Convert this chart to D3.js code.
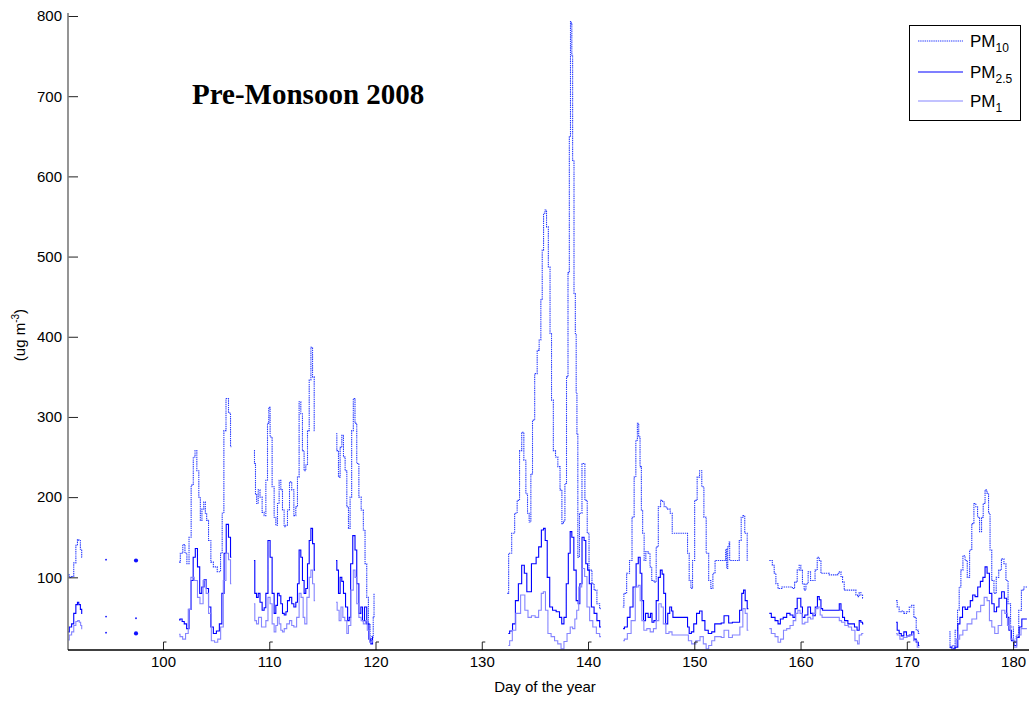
<!DOCTYPE html>
<html>
<head>
<meta charset="utf-8">
<script src="https://cdn.jsdelivr.net/npm/d3@7"></script>
<style>
  body { margin: 0; background: #fff; }
  svg { display: block; }
</style>
</head>
<body>
<svg id="chart" width="1029" height="701"></svg>
<script>
// Hourly-smoothed aerosol mass concentrations, [day of year, ug m-3]; null marks a data gap.
const pm10 = [
  [91.06,103],[91.3,100],[91.5,101],[91.7,118],[91.9,140],[92.0,147],[92.15,146],[92.3,135],[92.4,125],
  null, [94.64,122],
  null, [97.44,121],[97.48,121],
  null,
  [101.51,119],[101.75,130],[101.98,141],[102.15,130],[102.35,117],[102.55,150],[102.75,215],[102.95,250],[103.08,258],
  [103.29,233],[103.45,200],[103.58,171],[103.75,185],[103.92,194],[104.05,180],[104.17,171],[104.4,146],[104.61,119],
  [104.87,113],[105.34,107],[105.49,130],[105.65,180],[105.81,283],[106.05,323],[106.28,305],[106.43,263],
  null,
  [108.56,258],[108.66,242],[108.75,204],[108.88,192],[109.04,209],[109.22,200],[109.44,181],[109.6,177],[109.76,221],
  [109.91,292],[110.0,312],[110.16,275],[110.38,213],[110.54,175],[110.7,165],[110.85,192],[111.01,221],[111.17,209],
  [111.32,184],[111.48,163],[111.64,165],[111.79,184],[112.02,219],[112.21,209],[112.42,177],[112.58,188],[112.73,225],
  [112.89,319],[113.05,304],[113.2,258],[113.36,233],[113.52,240],[113.68,283],[113.84,346],[114.0,387],[114.15,350],[114.31,283],
  null,
  [116.28,279],[116.44,258],[116.59,225],[116.75,262],[116.91,277],[117.06,250],[117.22,233],[117.38,188],[117.53,161],
  [117.69,200],[117.82,283],[118.0,323],[118.14,292],[118.33,242],[118.54,200],[118.76,184],[118.95,159],[119.08,117],
  [119.27,75],[119.39,42],[119.58,21],[119.74,26],[119.83,50],[119.89,80],
  null,
  [132.4,80],[132.66,130],[132.97,155],[133.22,180],[133.44,196],[133.67,258],[133.85,281],[134.07,246],[134.23,204],
  [134.38,180],[134.54,169],[134.7,229],[134.85,296],[135.11,354],[135.32,383],[135.48,396],[135.64,446],[135.74,508],
  [135.89,554],[136.02,558],[136.17,537],[136.36,487],[136.49,404],[136.64,321],[136.83,258],[137.05,250],[137.27,238],
  [137.46,209],[137.62,167],[137.75,170],[137.9,217],[138.05,350],[138.18,480],[138.3,650],[138.4,793],[138.45,790],
  [138.5,751],[138.6,620],[138.76,454],[138.85,404],[138.92,330],[138.99,279],[139.09,125],[139.3,180],[139.56,242],
  [139.85,196],[140.0,155],[140.19,109],[140.3,109],[140.44,92],[140.7,84],[140.97,67],[141.22,61],
  null,
  [143.27,63],[143.48,80],[143.79,105],[144.02,121],[144.26,175],[144.42,225],[144.58,271],[144.71,292],[144.83,275],
  [144.96,238],[145.08,184],[145.2,155],[145.36,121],[145.52,132],[145.77,130],[145.9,113],[146.09,96],[146.31,94],
  [146.52,138],[146.71,188],[146.94,196],[147.09,194],[147.25,188],[147.6,185],[147.88,180],[147.97,155],[149.29,155],
  [149.44,130],[149.6,96],[149.76,86],[149.91,121],[150.16,196],[150.38,225],[150.61,233],[150.8,213],[151.01,175],
  [151.23,130],[151.48,96],[151.64,86],[151.86,105],[152.05,121],[152.9,121],[153.0,135],[153.1,111],[153.2,138],
  [153.36,144],[153.3,121],[154.15,121],[154.31,146],[154.52,175],[154.63,177],[154.87,155],[155.09,121],
  null,
  [157.06,121],[157.25,121],[157.44,115],[157.6,105],[157.76,92],[158.0,86],[158.5,88],[159.17,88],[159.3,86],
  [159.58,94],[159.79,109],[159.95,115],[160.1,109],[160.26,92],[160.42,84],[160.6,92],[160.83,107],[161.05,96],
  [161.27,96],[161.46,109],[161.68,125],[161.84,121],[162.0,105],[163.41,103],[163.58,105],[163.73,107],[163.88,101],
  [164.03,94],[164.19,84],[165.13,84],[165.29,78],[165.44,76],[165.6,81],[165.76,78],[165.91,74],
  null,
  [168.99,71],[169.2,63],[169.36,57],[169.6,58],[169.84,55],[170.1,57],[170.37,63],[170.55,65],[170.78,50],[170.99,34],[171.18,30],
  null,
  [174.0,32],[174.13,13],[174.4,13],[174.7,34],[174.85,59],[175.01,88],[175.17,109],[175.39,127],[175.58,121],
  [175.8,100],[176.02,134],[176.21,167],[176.42,192],[176.58,188],[176.74,175],[176.96,157],[177.11,175],[177.27,192],
  [177.46,209],[177.62,205],[177.77,180],[177.9,134],[178.09,96],[178.31,80],[178.52,100],[178.78,109],[179.03,123],
  [179.25,117],[179.41,96],[179.65,67],[179.88,38],[180.19,19],[180.41,26],[180.66,59],[180.91,84],[181.13,88],[181.35,88]
];

const pm25 = [
  [91.06,32],[91.3,38],[91.5,42],[91.7,55],[91.9,66],[92.0,69],[92.15,66],[92.3,60],[92.4,55],
  null, [94.64,51],
  null, [97.46,49],
  null,
  [101.51,47],[101.7,48],[101.9,45],[102.1,42],[102.35,36],[102.55,60],[102.73,96],[102.95,125],[103.13,136],
  [103.36,113],[103.55,80],[103.75,88],[103.98,97],[104.17,86],[104.4,63],[104.61,38],[104.87,30],[105.18,33],
  [105.43,42],[105.65,80],[105.85,130],[106.05,166],[106.28,150],[106.43,125],
  null,
  [108.56,121],[108.72,80],[108.88,75],[109.04,80],[109.22,69],[109.44,59],[109.6,62],[109.76,80],[110.0,146],
  [110.16,125],[110.38,80],[110.54,55],[110.7,65],[110.85,80],[111.01,77],[111.17,67],[111.32,55],[111.5,53],
  [111.64,57],[111.79,71],[112.02,75],[112.21,67],[112.42,63],[112.58,69],[112.73,92],[112.89,134],[113.05,125],
  [113.2,96],[113.36,80],[113.52,86],[113.68,117],[113.84,146],[114.0,161],[114.15,142],[114.31,109],
  null,
  [116.28,121],[116.44,109],[116.59,80],[116.75,100],[116.91,95],[117.06,80],[117.3,63],[117.45,46],[117.6,50],
  [117.72,117],[118.0,152],[118.14,134],[118.33,92],[118.54,55],[118.7,63],[118.85,46],[119.08,63],[119.27,42],
  [119.48,23],[119.64,17],[119.8,25],
  null,
  [132.5,30],[132.75,33],[133.04,42],[133.29,71],[133.6,92],[133.91,115],[134.1,105],[134.38,82],[134.55,82],
  [134.8,117],[135.0,117],[135.23,125],[135.48,138],[135.74,159],[135.89,161],[136.05,146],[136.27,100],[136.52,63],
  [136.8,59],[137.2,57],[137.43,50],[137.62,42],[137.85,50],[138.05,92],[138.24,130],[138.4,157],[138.55,150],
  [138.78,109],[138.99,71],[139.15,67],[139.31,92],[139.56,150],[139.7,146],[139.88,117],[140.05,109],[140.19,92],
  [140.44,63],[140.7,55],[140.97,46],[141.22,38],
  null,
  [143.3,36],[143.55,38],[143.85,50],[144.05,63],[144.42,88],[144.63,117],[144.83,125],[144.98,105],[145.15,71],
  [145.3,46],[145.52,55],[145.8,50],[145.95,55],[146.09,44],[146.31,46],[146.52,71],[146.71,100],[146.9,109],
  [147.05,104],[147.2,80],[147.4,42],[147.6,55],[147.78,63],[147.95,58],[148.03,50],[149.29,50],[149.44,38],
  [149.6,30],[149.85,32],[150.05,42],[150.38,55],[150.61,58],[150.85,46],[151.15,34],[151.48,30],[151.8,32],
  [152.05,42],[153.02,43],[152.58,52],[153.45,52],[153.02,43],[154.15,44],[154.38,59],[154.56,80],[154.71,84],
  [154.87,71],[155.09,61],
  null,
  [157.06,55],[157.44,50],[157.76,46],[158.0,42],[158.2,48],[158.54,50],[158.85,55],[159.17,53],[159.4,50],
  [159.58,61],[159.79,74],[159.95,74],[160.1,63],[160.26,50],[160.55,53],[160.83,63],[161.05,55],[161.27,52],
  [161.5,63],[161.68,76],[161.84,72],[162.0,61],[162.15,59],[163.56,59],[163.73,67],[163.88,59],[164.03,50],
  [164.25,46],[164.66,42],[164.95,42],[165.2,38],[165.44,34],[165.6,46],[165.76,44],[165.91,42],
  null,
  [168.99,44],[169.2,34],[169.36,30],[169.6,27],[169.84,32],[170.1,27],[170.37,28],[170.55,32],[170.78,23],[170.99,19],[171.18,15],
  null,
  [174.05,13],[174.4,11],[174.7,13],[174.9,42],[175.1,50],[175.39,63],[175.6,60],[175.85,63],[176.1,71],[176.3,78],
  [176.55,76],[176.8,88],[177.05,95],[177.27,100],[177.46,113],[177.65,105],[177.9,80],[178.1,67],[178.34,57],
  [178.55,63],[178.8,74],[179.05,82],[179.3,74],[179.5,50],[179.72,34],[179.97,21],[180.22,15],[180.45,25],
  [180.7,38],[180.95,48],[181.3,48]
];

const pm1 = [
  [91.06,22],[91.3,28],[91.5,32],[91.7,40],[91.9,45],[92.05,46],[92.2,44],[92.3,40],[92.4,36],
  null, [94.64,31],
  null, [97.44,30],[97.48,30],
  null,
  [101.51,29],[101.7,26],[102.0,23],[102.25,30],[102.5,60],[102.75,100],[103.13,96],[103.36,75],[103.6,67],
  [103.95,96],[104.17,80],[104.4,55],[104.7,21],[105.0,19],[105.3,23],[105.55,38],[105.8,96],[106.05,130],
  [106.28,122],[106.43,92],
  null,
  [108.56,67],[108.72,46],[108.88,42],[109.1,50],[109.44,38],[109.6,38],[109.76,46],[110.0,75],[110.16,67],
  [110.38,42],[110.54,32],[110.7,40],[110.85,50],[111.01,42],[111.17,34],[111.32,32],[111.5,36],[111.79,42],
  [112.02,46],[112.21,40],[112.42,38],[112.73,50],[112.89,80],[113.1,75],[113.28,50],[113.4,42],[113.68,75],
  [113.84,100],[114.0,109],[114.15,92],[114.31,71],
  null,
  [116.28,69],[116.5,59],[116.65,46],[116.85,63],[117.0,50],[117.22,46],[117.38,30],[117.53,40],[117.82,84],
  [118.0,109],[118.14,100],[118.33,67],[118.54,50],[118.76,46],[118.95,42],[119.15,46],[119.3,34],[119.58,19],[119.78,21],
  null,
  [132.5,15],[132.75,21],[133.0,34],[133.4,55],[133.91,78],[134.2,59],[134.5,50],[134.85,52],[135.2,50],
  [135.5,59],[135.7,80],[135.89,82],[136.1,59],[136.35,30],[136.7,26],[137.0,21],[137.3,17],[137.62,11],
  [137.85,20],[138.2,30],[138.45,38],[138.65,36],[138.87,48],[139.0,59],[139.25,88],[139.56,111],[139.8,101],
  [140.0,63],[140.3,46],[140.6,38],[140.97,30],[141.22,26],
  null,
  [143.3,21],[143.55,23],[143.85,30],[144.26,46],[144.63,88],[144.83,90],[144.98,71],[145.15,46],[145.36,34],
  [145.7,36],[146.0,32],[146.31,36],[146.52,46],[146.8,67],[146.97,63],[147.2,42],[147.45,30],[147.78,32],
  [148.03,28],[149.29,28],[149.6,21],[149.91,17],[150.38,21],[150.7,26],[151.0,17],[151.23,11],[151.48,15],
  [151.8,21],[152.05,26],[153.02,25],[152.58,34],[153.45,34],[153.02,25],[154.15,28],[154.43,38],[154.71,61],
  [154.87,55],[155.09,34],
  null,
  [157.06,36],[157.44,30],[157.76,26],[158.0,19],[158.25,23],[158.54,34],[158.85,36],[159.17,40],[159.45,46],
  [159.65,55],[159.85,59],[160.05,55],[160.26,42],[160.55,44],[160.83,50],[161.05,48],[161.3,55],[161.55,61],
  [161.75,63],[161.95,53],[162.1,50],[163.56,50],[163.73,46],[164.0,44],[164.34,40],[164.66,38],[164.95,34],
  [165.29,21],[165.44,17],[165.6,28],[165.91,30],
  null,
  [168.99,30],[169.2,28],[169.5,23],[169.84,25],[170.2,27],[170.5,28],[170.78,21],[171.18,13],
  null,
  [174.13,11],[174.45,15],[174.85,23],[175.1,28],[175.45,34],[175.9,42],[176.35,48],[176.8,57],[177.1,65],
  [177.46,75],[177.65,71],[177.9,46],[178.1,38],[178.45,30],[178.75,40],[179.1,59],[179.35,55],[179.6,40],
  [179.95,23],[180.2,13],[180.5,28],[181.0,36],[181.3,36]
];

const xTicks = [100, 110, 120, 130, 140, 150, 160, 170, 180];
const yTicks = [100, 200, 300, 400, 500, 600, 700, 800];
const legendLabels = [["PM", "10"], ["PM", "2.5"], ["PM", "1"]];

const svg = d3.select("#chart");
const font = "'Liberation Sans', Arial, sans-serif";

const x = d3.scaleLinear().domain([91.06, 181.5]).range([68, 1029]);
const y = d3.scaleLinear().domain([10, 800]).range([649.5, 16]);

svg.append("clipPath").attr("id", "plot-clip")
  .append("rect").attr("x", 68).attr("y", 0).attr("width", 961).attr("height", 650);

// Split a null-separated record into contiguous runs.
function runs(arr) {
  const out = [];
  let cur = [];
  for (const p of arr) {
    if (p === null) { if (cur.length) out.push(cur); cur = []; }
    else cur.push(p);
  }
  if (cur.length) out.push(cur);
  return out;
}

const styles = [
  { data: pm10, color: "#2a3cff", dash: "1.4,0.8", width: 1.1 },
  { data: pm25, color: "#0000ff", dash: null, width: 1.1 },
  { data: pm1,  color: "#8585ff", dash: null, width: 1.1 }
];

// sampled readings are held between samples, giving the staircase look of logger data
const line = d3.line().x(d => x(d[0])).y(d => y(d[1])).curve(d3.curveStep);
const plot = svg.append("g").attr("clip-path", "url(#plot-clip)");

styles.forEach(s => {
  const parts = runs(s.data);
  const g = plot.append("g");
  parts.filter(p => p.length > 2).forEach(p => {
    g.append("path").attr("d", line(p))
      .attr("fill", "none").attr("stroke", s.color)
      .attr("stroke-width", s.width)
      .attr("stroke-dasharray", s.dash);
  });
  // isolated readings show up as dots
  parts.filter(p => p.length <= 2).forEach(p => {
    g.append("circle")
      .attr("cx", x(d3.mean(p, d => d[0])))
      .attr("cy", y(d3.mean(p, d => d[1])))
      .attr("r", p.length === 1 ? 0.9 : 2.1)
      .attr("fill", "#1010ff");
  });
});

// y axis
const yAxis = svg.append("g").attr("transform", "translate(68,0)")
  .call(d3.axisLeft(y).tickValues(yTicks).tickSize(-10).tickPadding(6));
yAxis.select(".domain").remove();
yAxis.append("line").attr("x1", 0).attr("x2", 0).attr("y1", 13).attr("y2", 650)
  .attr("stroke", "#7a7a7a").attr("stroke-width", 1.6);
yAxis.selectAll(".tick line").attr("stroke", "#222");
yAxis.selectAll(".tick text").attr("font-family", font).attr("font-size", 15).attr("fill", "#000");

// x axis
const xAxis = svg.append("g").attr("transform", "translate(0,650)")
  .call(d3.axisBottom(x).tickValues(xTicks).tickSize(0).tickPadding(6));
xAxis.select(".domain").remove();
xAxis.append("line").attr("x1", 68).attr("x2", 1029).attr("y1", 0).attr("y2", 0)
  .attr("stroke", "#000").attr("stroke-width", 1.4);
xAxis.selectAll(".tick").append("path")
  .attr("d", "M0,0V-8H3").attr("fill", "none").attr("stroke", "#222").attr("stroke-width", 1);
xAxis.selectAll(".tick text").attr("font-family", font).attr("font-size", 15).attr("fill", "#000");

// axis titles
svg.append("text").attr("x", 545).attr("y", 692).attr("text-anchor", "middle")
  .attr("font-family", font).attr("font-size", 15).text("Day of the year");

const yl = svg.append("text").attr("transform", "translate(25,335) rotate(-90)")
  .attr("text-anchor", "middle").attr("font-family", font).attr("font-size", 15);
yl.append("tspan").text("(ug m");
yl.append("tspan").attr("font-size", 10).attr("dy", -6).text("-3");
yl.append("tspan").attr("dy", 6).text(")");

// title
svg.append("text").attr("x", 192).attr("y", 104)
  .attr("font-family", "'Liberation Serif', 'Times New Roman', serif")
  .attr("font-weight", "bold").attr("font-size", 29).text("Pre-Monsoon 2008");

// legend
const lg = svg.append("g");
lg.append("rect").attr("x", 909.5).attr("y", 25.5).attr("width", 111).attr("height", 95)
  .attr("fill", "#fff").attr("stroke", "#000").attr("stroke-width", 1);
const rows = [41, 72, 101];
legendLabels.forEach((lab, i) => {
  const s = styles[i];
  lg.append("line").attr("x1", 918).attr("x2", 963).attr("y1", rows[i]).attr("y2", rows[i])
    .attr("stroke", s.color).attr("stroke-width", s.width).attr("stroke-dasharray", s.dash);
  const t = lg.append("text").attr("x", 970).attr("y", rows[i] + 6)
    .attr("font-family", font).attr("font-size", 17);
  t.append("tspan").text(lab[0]);
  t.append("tspan").attr("font-size", 12).attr("dy", 5).text(lab[1]);
});
</script>
</body>
</html>
